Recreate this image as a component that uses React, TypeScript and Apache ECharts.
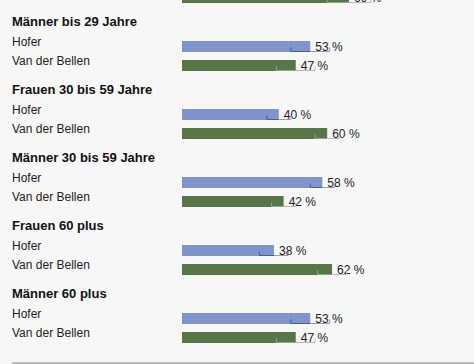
import React, { useEffect, useRef } from "react";
import * as echarts from "echarts";

const groups = [
  "Frauen bis 29 Jahre",
  "Männer bis 29 Jahre",
  "Frauen 30 bis 59 Jahre",
  "Männer 30 bis 59 Jahre",
  "Frauen 60 plus",
  "Männer 60 plus",
];
const candidates = ["Hofer", "Van der Bellen"];
const hofer = [31, 53, 40, 58, 38, 53];
const vanDerBellen = [69, 47, 60, 42, 62, 47];
const margins = [9, 8, 5, 5, 6, 8];

const FONT = "'Liberation Sans', Arial, Helvetica, sans-serif";
const BLUE = "#8094cc";
const GREEN = "#577749";

export default function App() {
  const ref = useRef<HTMLDivElement>(null);
  useEffect(() => {
    if (!ref.current) return;
    const chart = echarts.init(ref.current, undefined, { renderer: "svg" });
    const PERIOD = 68;
    const grids: any[] = [];
    const xAxes: any[] = [];
    const yAxes: any[] = [];
    const series: any[] = [];
    const graphics: any[] = [];

    groups.forEach((g, i) => {
      const top = 37 + PERIOD * (i - 1);
      grids.push({
        left: 182,
        width: 242,
        top,
        height: 38,
        outerBoundsMode: "none",
        containLabel: false,
      });
      xAxes.push({ gridIndex: i, type: "value", min: 0, max: 100, show: false });
      yAxes.push({
        gridIndex: i,
        type: "category",
        inverse: true,
        data: candidates,
        axisLine: { show: false },
        axisTick: { show: false },
        splitLine: { show: false },
        axisLabel: { show: false },
      });
      series.push({
        type: "bar",
        xAxisIndex: i,
        yAxisIndex: i,
        barWidth: 11,
        data: [
          { value: hofer[i], itemStyle: { color: BLUE } },
          { value: vanDerBellen[i], itemStyle: { color: GREEN } },
        ],
        label: {
          show: true,
          position: "right",
          distance: 5,
          formatter: "{c} %",
          fontSize: 12,
          color: "#222",
          fontFamily: FONT,
        },
      });
      series.push({
        type: "custom",
        xAxisIndex: i,
        yAxisIndex: i,
        z: 5,
        data: [
          [hofer[i], 0, margins[i]],
          [vanDerBellen[i], 1, margins[i]],
        ],
        renderItem: (params: any, api: any) => {
          const v = api.value(0);
          const idx = api.value(1);
          const m = api.value(2);
          const end = api.coord([v, idx]);
          const l = api.coord([v - m, idx]);
          const r = api.coord([v + m, idx]);
          const yb = end[1] + 5;
          const inner = idx === 0 ? "#4a5d98" : "#90a887";
          const outer = idx === 0 ? "#8f9cc0" : "#b4bbb2";
          return {
            type: "group",
            children: [
              {
                type: "polyline",
                shape: { points: [[l[0], yb - 4], [l[0], yb], [end[0], yb]] },
                style: { stroke: inner, lineWidth: 1, fill: null },
              },
              {
                type: "polyline",
                shape: { points: [[end[0], yb], [r[0], yb], [r[0], yb - 4]] },
                style: { stroke: outer, lineWidth: 1, fill: null },
              },
            ],
          };
        },
      });
      const base = PERIOD * (i - 1);
      graphics.push({
        type: "text",
        x: 12,
        y: 21.5 + base - 7,
        style: { text: g, font: `bold 13px ${FONT}`, fill: "#111" },
      });
      candidates.forEach((c, k) => {
        graphics.push({
          type: "text",
          x: 12,
          y: (k === 0 ? 42 : 61) + base - 6.5,
          style: { text: c, font: `12px ${FONT}`, fill: "#222" },
        });
      });
    });

    graphics.push({
      type: "line",
      shape: { x1: 12, y1: 363, x2: 474, y2: 363 },
      style: { stroke: "#bdbdbd", lineWidth: 2 },
    });

    chart.setOption({
      animation: false,
      backgroundColor: "#f7f7f7",
      grid: grids,
      xAxis: xAxes,
      yAxis: yAxes,
      series,
      graphic: graphics,
    });
    return () => chart.dispose();
  }, []);
  return (
    <div
      ref={ref}
      style={{ position: "absolute", left: 0, top: 0, width: 474, height: 364 }}
    />
  );
}
